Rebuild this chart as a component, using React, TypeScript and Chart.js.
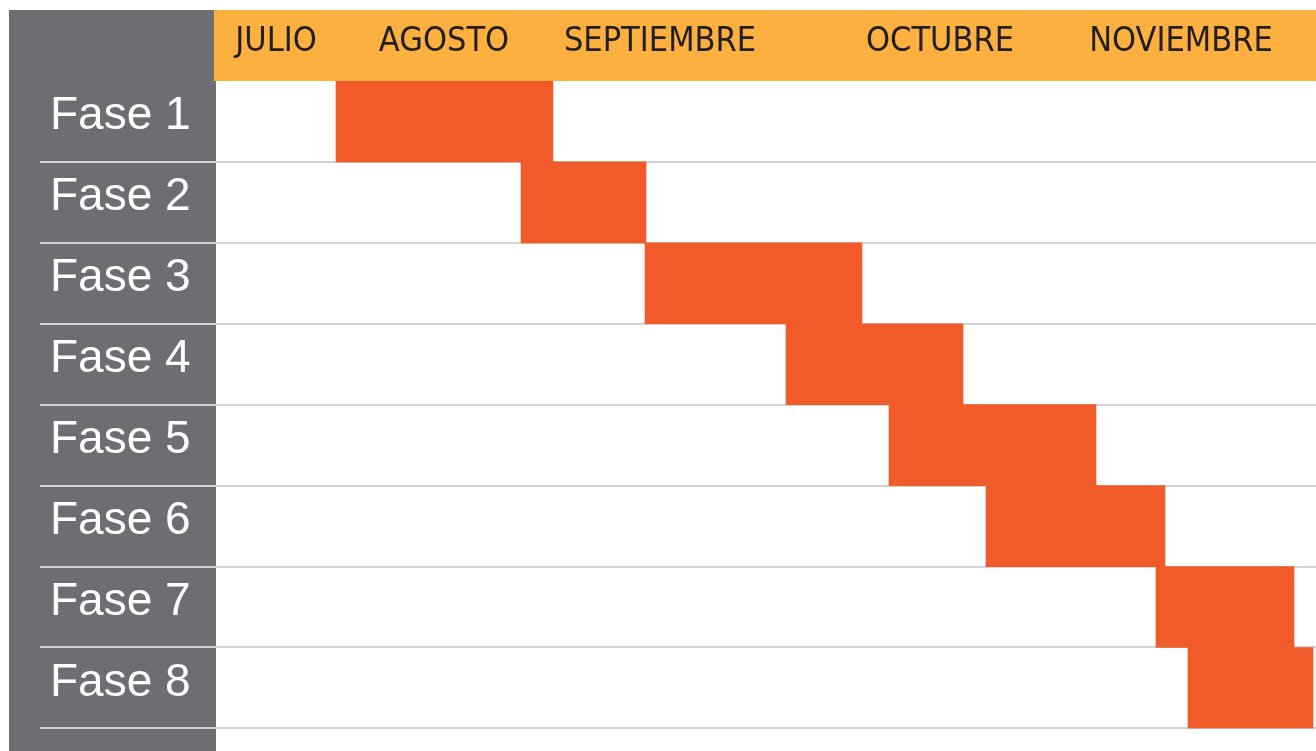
import React, { useEffect, useRef } from "react";
import { Chart, registerables } from "chart.js";

Chart.register(...registerables);

// Data (x unit: weeks from the start of July)
const phases = ["Fase 1", "Fase 2", "Fase 3", "Fase 4", "Fase 5", "Fase 6", "Fase 7", "Fase 8"];
const startWeeks = [2.4, 6.1, 8.58, 11.4, 13.46, 15.4, 18.8, 19.44];
const endWeeks = [6.74, 8.6, 12.92, 14.94, 17.6, 18.98, 21.56, 21.94];
const monthLabels = ["JULIO", "AGOSTO", "SEPTIEMBRE", "OCTUBRE", "NOVIEMBRE"];
const monthTicks = [1.2, 4.56, 8.88, 14.48, 19.3];
const weekMin = 0;
const weekMax = 22;

const PANEL = "#6d6e71";
const HEADER = "#fbb040";
const BAR = "#f15a29";
const LINE = "#d1d3d4";

const backgroundPlugin = {
  id: "ganttBackground",
  beforeDraw(chart: any) {
    const { ctx, chartArea, height } = chart;
    const xScale = chart.scales.x;
    ctx.save();
    ctx.fillStyle = PANEL;
    ctx.fillRect(9, xScale.top, chartArea.left - 9, height - xScale.top);
    ctx.fillStyle = HEADER;
    ctx.fillRect(chartArea.left - 2, xScale.top, chartArea.right - chartArea.left + 2, chartArea.top - xScale.top);
    ctx.restore();
  },
};

export default function App() {
  const ref = useRef<HTMLCanvasElement | null>(null);

  useEffect(() => {
    if (!ref.current) return;
    const chart = new Chart(ref.current, {
      type: "bar",
      data: {
        labels: phases,
        datasets: [
          {
            data: phases.map((_, i) => [startWeeks[i], endWeeks[i]]) as any,
            backgroundColor: BAR,
            borderWidth: 0,
            barPercentage: 1,
            categoryPercentage: 1,
          },
        ],
      },
      options: {
        indexAxis: "y",
        animation: false,
        responsive: true,
        maintainAspectRatio: false,
        layout: { padding: { left: 50, top: 10, right: 0, bottom: 23 } },
        plugins: { legend: { display: false }, tooltip: { enabled: false } },
        scales: {
          x: {
            type: "linear",
            position: "top",
            min: weekMin,
            max: weekMax,
            grid: { display: false, drawTicks: false },
            border: { display: false },
            afterFit(scale: any) {
              scale.height = 71;
            },
            afterBuildTicks(scale: any) {
              scale.ticks = monthTicks.map((v) => ({ value: v }));
            },
            ticks: {
              autoSkip: false,
              maxRotation: 0,
              padding: 18,
              color: "#231f20",
              font: { family: "'Liberation Sans Narrow', 'DejaVu Sans Condensed', 'Liberation Sans', sans-serif", size: 34 },
              callback: (_v: any, i: number) => monthLabels[i],
            },
          },
          y: {
            type: "category",
            position: "left",
            offset: true,
            grid: {
              offset: true,
              lineWidth: 2,
              tickLength: 176,
              color: (c: any) => (c.index === 0 ? "rgba(0,0,0,0)" : LINE),
            },
            border: { display: false },
            afterFit(scale: any) {
              scale.width = 166;
            },
            ticks: {
              crossAlign: "far",
              labelOffset: -5,
              color: "#ffffff",
              font: { family: "'Liberation Sans', Arial, sans-serif", size: 46 },
            },
          },
        },
      },
      plugins: [backgroundPlugin],
    });
    return () => chart.destroy();
  }, []);

  return (
    <div style={{ position: "fixed", left: 0, top: 0, width: 1316, height: 759 }}>
      <canvas ref={ref} />
    </div>
  );
}
